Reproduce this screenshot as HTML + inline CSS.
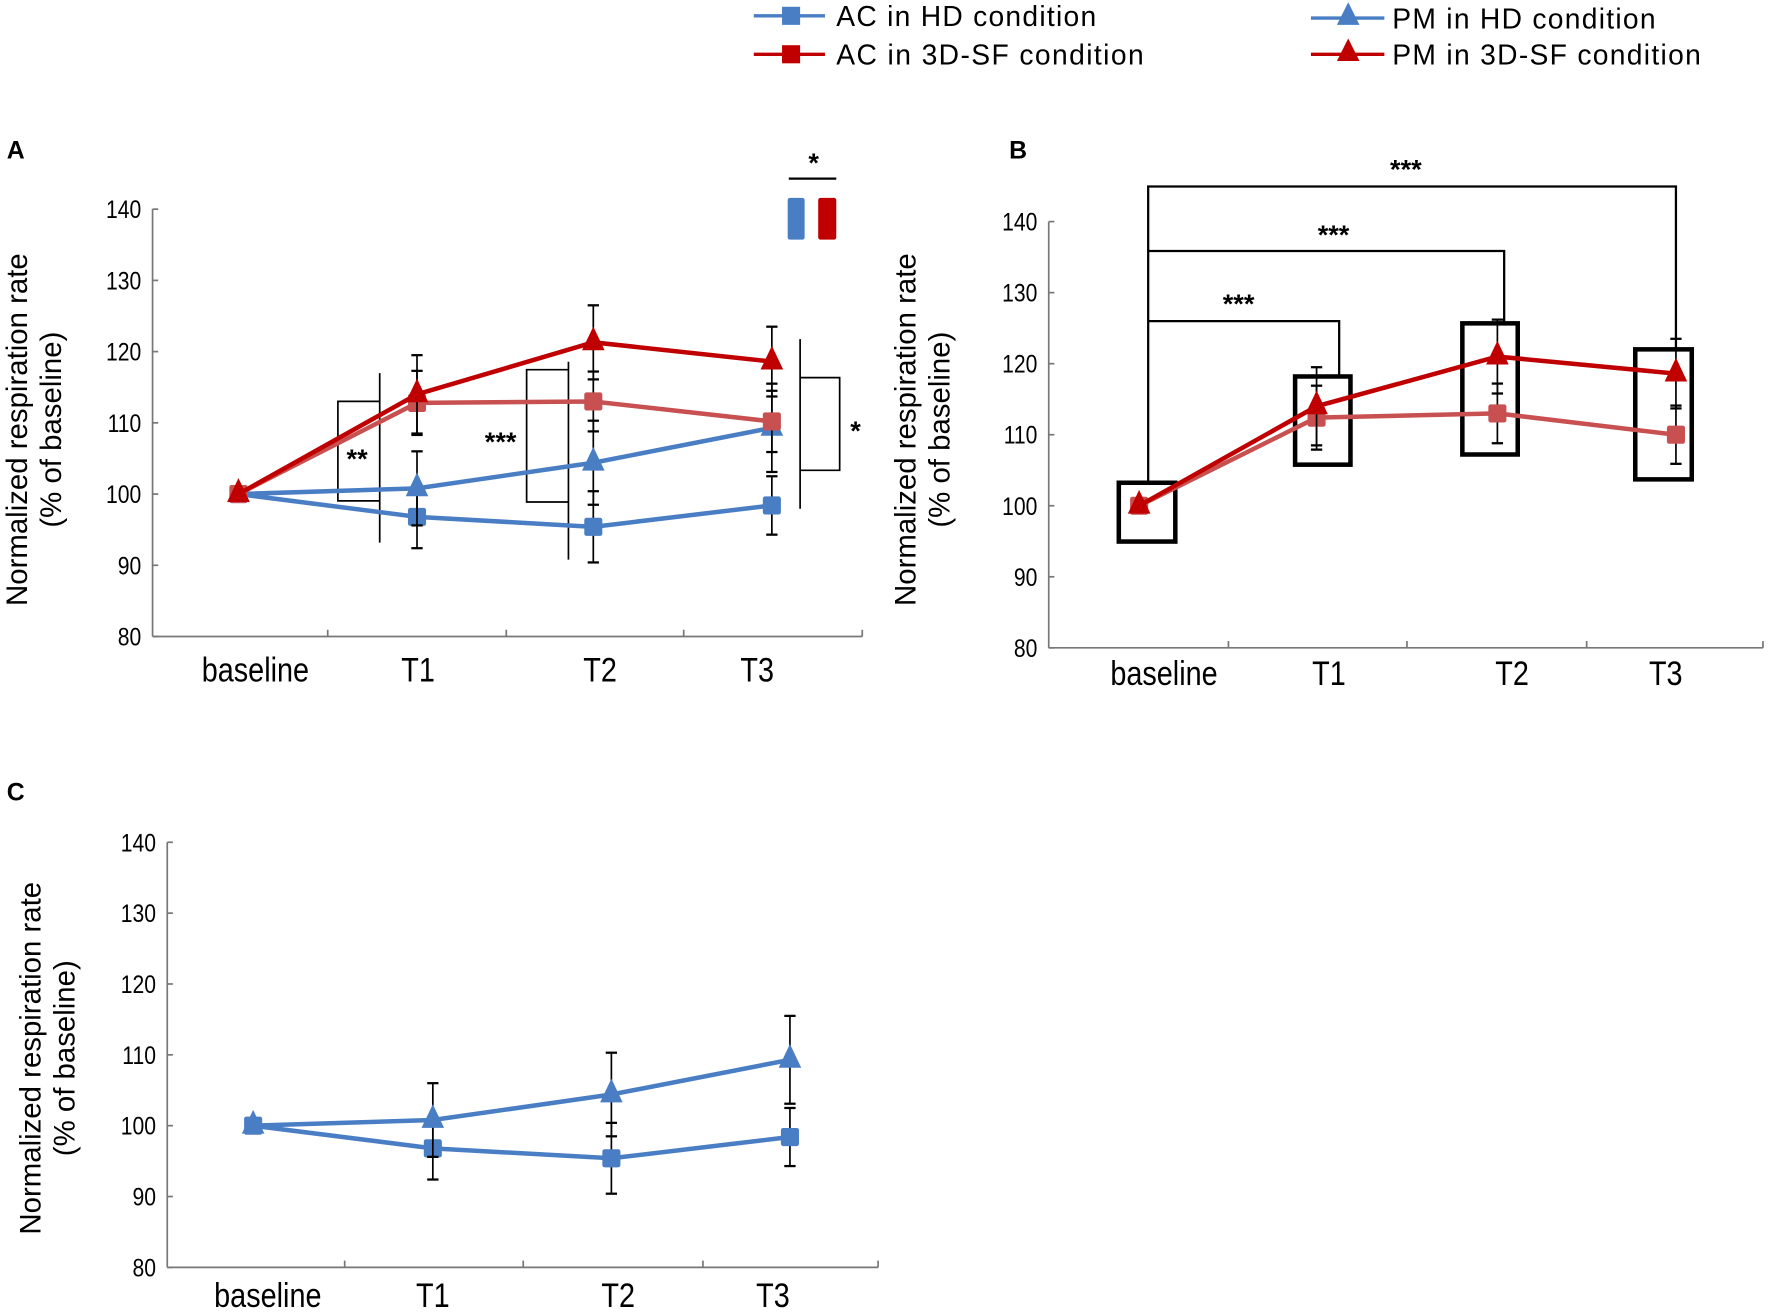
<!DOCTYPE html>
<html><head><meta charset="utf-8"><style>
html,body{margin:0;padding:0;background:#fff;}
svg{display:block;font-family:"Liberation Sans",Arial,sans-serif;}
</style></head><body>
<svg id="fig" width="1772" height="1316" viewBox="0 0 1568 1164" preserveAspectRatio="none" xmlns="http://www.w3.org/2000/svg">
<g id="legend">
  <g><line x1="667" y1="14" x2="730" y2="14" stroke="#4a7ec4" stroke-width="3"/><rect x="692" y="6" width="16" height="16" fill="#4a7ec4"/><text x="740" y="23" font-size="25" textLength="230">AC in HD condition</text></g>
  <g><line x1="667" y1="48" x2="730" y2="48" stroke="#c00000" stroke-width="3"/><rect x="692" y="40" width="16" height="16" fill="#c00000"/><text x="740" y="57" font-size="25" textLength="272">AC in 3D-SF condition</text></g>
  <g><line x1="1160" y1="16" x2="1225" y2="16" stroke="#4a7ec4" stroke-width="3"/><polygon points="1193,2 1203,22 1183,22" fill="#4a7ec4"/><text x="1232" y="25" font-size="25" textLength="233">PM in HD condition</text></g>
  <g><line x1="1160" y1="48" x2="1225" y2="48" stroke="#c00000" stroke-width="3"/><polygon points="1193,34 1203,54 1183,54" fill="#c00000"/><text x="1232" y="57" font-size="25" textLength="273">PM in 3D-SF condition</text></g>
</g>
<text x="6" y="140" font-size="22" font-weight="bold">A</text>
<text x="893" y="140" font-size="22" font-weight="bold">B</text>
<text x="6" y="708" font-size="22" font-weight="bold">C</text>
<g id="annA" fill="none" stroke="#000" stroke-width="1.5">
  <polyline points="336,355 299,355 299,443 336,443"/><line x1="336" y1="330" x2="336" y2="480"/>
  <polyline points="503,327 466,327 466,444 503,444"/><line x1="503" y1="320" x2="503" y2="495"/>
  <polyline points="708,334 743,334 743,416 708,416"/><line x1="708" y1="300" x2="708" y2="450"/>
  <line x1="698" y1="158" x2="740" y2="158" stroke-width="2"/>
  <rect x="697" y="175" width="15" height="37" fill="#4a7ec4" stroke="none" rx="2"/>
  <rect x="724" y="175" width="16" height="37" fill="#c00000" stroke="none" rx="2"/>
</g>
<text x="316" y="414" font-size="24" font-weight="bold" text-anchor="middle">**</text>
<text x="443" y="399" font-size="24" font-weight="bold" text-anchor="middle">***</text>
<text x="757" y="389" font-size="24" font-weight="bold" text-anchor="middle">*</text>
<text x="720" y="152" font-size="24" font-weight="bold" text-anchor="middle">*</text>
<g id="annB" fill="none" stroke="#000" stroke-width="4">
  <rect x="990" y="427" width="50" height="52"/><rect x="1146" y="333" width="49" height="78"/>
  <rect x="1294" y="286" width="49" height="116"/><rect x="1447" y="309" width="50" height="115"/>
  <g stroke-width="2"><polyline points="1016,427 1016,165 1483,165 1483,309"/>
  <polyline points="1016,222 1331,222 1331,286"/><polyline points="1016,284 1185,284 1185,333"/></g>
</g>
<text x="1096" y="277" font-size="24" font-weight="bold" text-anchor="middle">***</text>
<text x="1180" y="216" font-size="24" font-weight="bold" text-anchor="middle">***</text>
<text x="1244" y="158" font-size="24" font-weight="bold" text-anchor="middle">***</text>
</svg>
<script>
const categories = ["baseline","T1","T2","T3"];
const yTicks = [80,90,100,110,120,130,140];
const acHD = [100,96.8,95.4,98.4];
const acHDErr = [0,4.4,5,4.1];
const pmHD = [100,100.8,104.4,109.3];
const pmHDErr = [0,5.2,5.9,6.2];
const ac3D = [100,112.8,113,110.2];
const ac3DErr = [0,4.5,4.2,4.3];
const pm3D = [100,114,121.3,118.6];
const pm3DErr = [0,5.5,5.2,4.9];
const acB = [100,112.4,113,110];
const acBErr = [0,4.5,4.2,4.1];
const pmB = [100,114,121,118.6];
const pmBErr = [0,5.5,5.2,4.9];

const NS="http://www.w3.org/2000/svg";
const svg=document.getElementById('fig');
function mk(tag,attrs,parent){const e=document.createElementNS(NS,tag);for(const k in attrs)e.setAttribute(k,attrs[k]);(parent||svg).appendChild(e);return e;}

function panel(p){
  const g=mk('g',{});
  
  
  const y=v=>p.y0+(v-80)/60*(p.y1-p.y0);
  const x=i=>p.cx[i];
  mk('line',{x1:p.ax,y1:p.y1,x2:p.ax,y2:p.y0,stroke:'#777','stroke-width':1.5},g);
  mk('line',{x1:p.ax,y1:p.y0,x2:p.xEnd,y2:p.y0,stroke:'#777','stroke-width':1.5},g);
  p.xt.forEach(t=>mk('line',{x1:t,y1:p.y0,x2:t,y2:p.y0-6,stroke:'#777','stroke-width':1.5},g));
  yTicks.forEach(v=>{
    mk('line',{x1:p.ax,y1:y(v),x2:p.ax+5,y2:y(v),stroke:'#777','stroke-width':1.5},g);
    const t=mk('text',{x:p.ax-10,y:y(v)+8,'font-size':22,'text-anchor':'end',transform:`translate(${(p.ax-10)*0.15},0) scale(0.85,1)`},g);t.textContent=v;
    
    
  });
  categories.forEach((c,i)=>{
    const t=mk('text',{x:p.lx[i],y:p.ly,'font-size':30,'text-anchor':'middle',transform:`translate(${p.lx[i]*0.15},0) scale(0.85,1)`},g);t.textContent=c;
    
    
  });
  const tt=mk('text',{'font-size':26,'text-anchor':'middle',transform:`translate(${p.tx},${p.ty}) rotate(-90)`},g);
  
  
  const s1=mk('tspan',{x:0,y:0},tt);s1.textContent='Normalized respiration rate';
  const s2=mk('tspan',{x:0,y:30},tt);s2.textContent='(% of baseline)';
  p.series.forEach(s=>{
    const sg=mk('g',{},g);
    
    
    s.v.forEach((v,i)=>{if(s.e[i]>0){
      mk('line',{x1:x(i),y1:y(v-s.e[i]),x2:x(i),y2:y(v+s.e[i]),stroke:'#000','stroke-width':1.5},sg);
      [v-s.e[i],v+s.e[i]].forEach(w=>mk('line',{x1:x(i)-5,y1:y(w),x2:x(i)+5,y2:y(w),stroke:'#000','stroke-width':2},sg));
    }});
    mk('polyline',{points:s.v.map((v,i)=>x(i)+','+y(v)).join(' '),fill:'none',stroke:s.c,'stroke-width':4},sg);
    s.v.forEach((v,i)=>{
      let m;
      if(s.m==='sq') m=mk('rect',{x:x(i)-8,y:y(v)-8,width:16,height:16,fill:s.c,rx:2},sg);
      else m=mk('polygon',{points:`${x(i)},${y(v)-14} ${x(i)+10},${y(v)+7} ${x(i)-10},${y(v)+7}`,fill:s.c},sg);
      
      
    });
  });
}
panel({name:'panel-a-chart',ax:135,y0:563,y1:185,xEnd:763,xt:[290,448,605,763],cx:[211,369,525,683],lx:[226,370,531,670],ly:603,tx:24,ty:380,
  series:[{name:'series-ac-hd',v:acHD,e:acHDErr,c:'#4a7ec4',m:'sq'},{name:'series-pm-hd',v:pmHD,e:pmHDErr,c:'#4a7ec4',m:'tri'},
          {name:'series-ac-3dsf',v:ac3D,e:ac3DErr,c:'#c85050',m:'sq'},{name:'series-pm-3dsf',v:pm3D,e:pm3DErr,c:'#c00000',m:'tri'}]});
panel({name:'panel-b-chart',ax:928,y0:573,y1:196,xEnd:1560,xt:[1087,1245,1404,1560],cx:[1008,1165,1325,1483],lx:[1030,1176,1338,1474],ly:606,tx:810,ty:380,
  series:[{name:'series-ac-3dsf-b',v:acB,e:acBErr,c:'#c85050',m:'sq'},{name:'series-pm-3dsf-b',v:pmB,e:pmBErr,c:'#c00000',m:'tri'}]});
panel({name:'panel-c-chart',ax:148,y0:1121,y1:745,xEnd:777,xt:[305,463,622,777],cx:[224,383,541,699],lx:[237,383,547,684],ly:1156,tx:36,ty:936,
  series:[{name:'series-ac-hd-c',v:acHD,e:acHDErr,c:'#4a7ec4',m:'sq'},{name:'series-pm-hd-c',v:pmHD,e:pmHDErr,c:'#4a7ec4',m:'tri'}]});
</script>
</body></html>
